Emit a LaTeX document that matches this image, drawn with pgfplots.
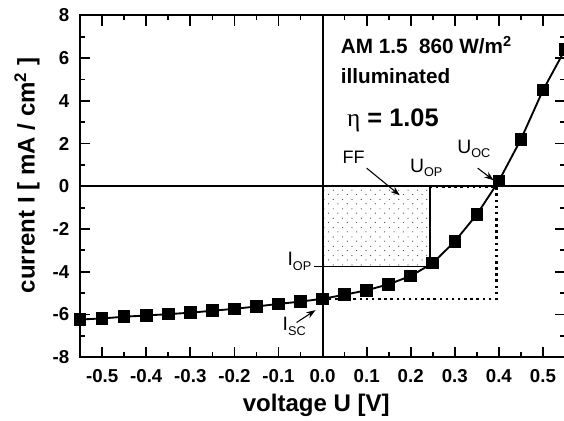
\documentclass[border=0pt]{standalone}
\usepackage{fontspec}
\setmainfont{Liberation Sans}
\newfontfamily\serifeta{Liberation Serif}
\usepackage{pgfplots}
\pgfplotsset{compat=1.18}
\usetikzlibrary{patterns,arrows.meta,calc}
\pgfdeclarepatternformonly{sparsedots}{\pgfqpoint{-1pt}{-1pt}}{\pgfqpoint{8pt}{8pt}}{\pgfqpoint{7pt}{7pt}}{\pgfpathcircle{\pgfqpoint{1pt}{1pt}}{0.45pt}\pgfpathcircle{\pgfqpoint{4.5pt}{4.2pt}}{0.45pt}\pgfusepath{fill}}
\newcommand{\sub}[2]{#1\raisebox{-0.45ex}{\fontsize{9.5}{9.5}\selectfont #2}}
\begin{document}
\begin{tikzpicture}
\begin{axis}[
  scale only axis, width=363pt, height=255.75pt,
  xmin=-0.55, xmax=0.55, ymin=-8, ymax=8,
  xtick={-0.5,-0.4,-0.3,-0.2,-0.1,0,0.1,0.2,0.3,0.4,0.5},
  xticklabels={-0.5,-0.4,-0.3,-0.2,-0.1,0.0,0.1,0.2,0.3,0.4,0.5},
  ytick={-8,-6,-4,-2,0,2,4,6,8},
  yticklabels={-8,-6,-4,-2,0,2,4,6,8},
  minor x tick num=1, minor y tick num=1,
  tick align=inside, major tick length=7.5pt, minor tick length=3.75pt,
  every tick/.style={black, line width=1.3pt},
  axis line style={line width=1.5pt},
  tick label style={font=\fontsize{14}{14}\selectfont\bfseries},
  xticklabel style={anchor=center, yshift=-14.25pt},
  yticklabel style={anchor=east, inner sep=0pt, xshift=-8pt},
  xlabel={voltage U [V]},
  ylabel={current I [ mA / cm\textsuperscript{2} ]},
  label style={font=\fontsize{18}{18}\selectfont\bfseries},
  xlabel style={at={(axis description cs:0.487,0)}, anchor=center, yshift=-36pt},
  ylabel style={at={(axis description cs:0,0.5)}, anchor=center, yshift=39.75pt, xshift=8.25pt},
  clip mode=individual,
]
% fill factor rectangle
\addplot[draw=black, line width=1.4pt, pattern=sparsedots, pattern color=black!75] coordinates {(0,0) (0.243,0) (0.243,-3.76) (0,-3.76)} -- cycle;
\addplot[black, line width=1.2pt] coordinates {(-0.02,-3.76) (0.243,-3.76)};
% dotted max-power rectangle
\addplot[black, line width=1.9pt, dash pattern=on 1.9pt off 2.7pt] coordinates {(0.243,0) (0.394,0) (0.394,-5.28) (0,-5.28)};
% zero axes
\addplot[black, line width=1.5pt] coordinates {(-0.55,0) (0.55,0)};
\addplot[black, line width=1.6pt] coordinates {(0,-8) (0,8)};
% data
\addplot[black, line width=1.4pt, mark=square*, mark size=4pt] coordinates {
(-0.55,-6.24) (-0.50,-6.19) (-0.45,-6.11) (-0.40,-6.05) (-0.35,-5.99)
(-0.30,-5.92) (-0.25,-5.83) (-0.20,-5.74) (-0.15,-5.63) (-0.10,-5.51)
(-0.05,-5.40) (0.00,-5.27) (0.05,-5.08) (0.10,-4.87) (0.15,-4.59)
(0.20,-4.20) (0.25,-3.60) (0.30,-2.58) (0.35,-1.32) (0.40,0.25)
(0.45,2.20) (0.50,4.50) (0.55,6.40)};
% annotations
\node[anchor=base west, inner sep=0pt, font=\fontsize{15.5}{15.5}\selectfont\bfseries] at (axis cs:0.041,6.24) {AM 1.5\ \ 860 W/m\textsuperscript{2}};
\node[anchor=base west, inner sep=0pt, font=\fontsize{15.5}{15.5}\selectfont\bfseries] at (axis cs:0.041,4.82) {illuminated};
\node[anchor=base west, inner sep=0pt, font=\fontsize{19}{19}\selectfont\bfseries] at (axis cs:0.055,2.78) {{\serifeta\mdseries η} = 1.05};
\node[anchor=base west, inner sep=0pt, font=\fontsize{13.5}{13.5}\selectfont] at (axis cs:0.045,1.07) {FF};
\draw[-{Stealth[length=7pt,width=5pt]}, line width=0.8pt] (axis cs:0.1,0.85) -- (axis cs:0.175,-0.42);
\node[anchor=base west, inner sep=0pt, font=\fontsize{14.5}{14.5}\selectfont] at (axis cs:0.198,0.66) {\sub{U}{OP}};
\node[anchor=base west, inner sep=0pt, font=\fontsize{14.5}{14.5}\selectfont] at (axis cs:0.305,1.55) {\sub{U}{OC}};
\draw[-{Stealth[length=7pt,width=5pt]}, line width=0.8pt] (axis cs:0.352,0.85) -- (axis cs:0.388,0.28);
\node[anchor=base west, inner sep=0pt, font=\fontsize{14.5}{14.5}\selectfont] at (axis cs:-0.08,-3.71) {\sub{I}{OP}};
\node[anchor=base west, inner sep=0pt, font=\fontsize{14.5}{14.5}\selectfont] at (axis cs:-0.091,-6.76) {\sub{I}{SC}};
\draw[-{Stealth[length=7pt,width=5pt]}, line width=0.8pt] (axis cs:-0.059,-6.38) -- (axis cs:-0.016,-5.8);
\end{axis}
\pgfresetboundingbox
\path[use as bounding box] ($(current axis.south west)+(-60pt,-47.25pt)$) rectangle ($(current axis.north east)+(-0.75pt,11.6pt)$);
\end{tikzpicture}
\end{document}
